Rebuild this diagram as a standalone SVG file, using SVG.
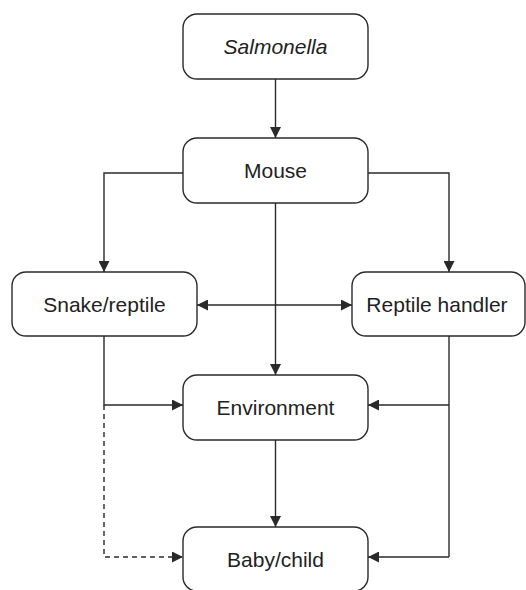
<svg xmlns="http://www.w3.org/2000/svg" width="526" height="590" viewBox="0 0 526 590">
<style>
.box{fill:#fff;stroke:#2a2a2a;stroke-width:1.4}
.lbl{font-family:"Liberation Sans",Arial,sans-serif;font-size:21px;fill:#222;text-anchor:middle}
.ln{fill:none;stroke:#2a2a2a;stroke-width:1.4}
.dash{stroke-dasharray:5,4}
</style>
<defs>
<marker id="ah" viewBox="0 0 10 10" refX="10" refY="5" markerWidth="11" markerHeight="11" markerUnits="userSpaceOnUse" orient="auto-start-reverse">
<path d="M0,0 L10,5 L0,10 Z" fill="#2a2a2a"/>
</marker>
</defs>
<rect width="526" height="590" fill="#fff"/>
<g id="connectors">
<path class="ln" d="M275.5,79 V138" marker-end="url(#ah)"/>
<path class="ln" d="M183,173 H104 V272" marker-end="url(#ah)"/>
<path class="ln" d="M368,173 H449 V272" marker-end="url(#ah)"/>
<path class="ln" d="M275.5,203 V375" marker-end="url(#ah)"/>
<path class="ln" d="M197,305 H352" marker-start="url(#ah)" marker-end="url(#ah)"/>
<path class="ln" d="M104,336 V405 H183" marker-end="url(#ah)"/>
<path class="ln dash" d="M104,405 V557 H183" marker-end="url(#ah)"/>
<path class="ln" d="M449,336 V557"/>
<path class="ln" d="M449,405 H368" marker-end="url(#ah)"/>
<path class="ln" d="M449,557 H368" marker-end="url(#ah)"/>
<path class="ln" d="M275.5,440 V527" marker-end="url(#ah)"/>
</g>
<g id="salmonella">
<rect class="box" x="183" y="14" width="185" height="65" rx="14"/>
<text class="lbl" x="275.5" y="54" font-style="italic">Salmonella</text>
</g>
<g id="mouse">
<rect class="box" x="183" y="138" width="185" height="65" rx="14"/>
<text class="lbl" x="275.5" y="178">Mouse</text>
</g>
<g id="snake">
<rect class="box" x="12" y="272" width="185" height="64" rx="14"/>
<text class="lbl" x="104.5" y="312">Snake/reptile</text>
</g>
<g id="handler">
<rect class="box" x="352" y="272" width="173" height="64" rx="14"/>
<text class="lbl" x="437" y="312">Reptile handler</text>
</g>
<g id="environment">
<rect class="box" x="183" y="375" width="185" height="65" rx="14"/>
<text class="lbl" x="275.5" y="415">Environment</text>
</g>
<g id="baby">
<rect class="box" x="183" y="527" width="185" height="64" rx="14"/>
<text class="lbl" x="275.5" y="567">Baby/child</text>
</g>
</svg>
